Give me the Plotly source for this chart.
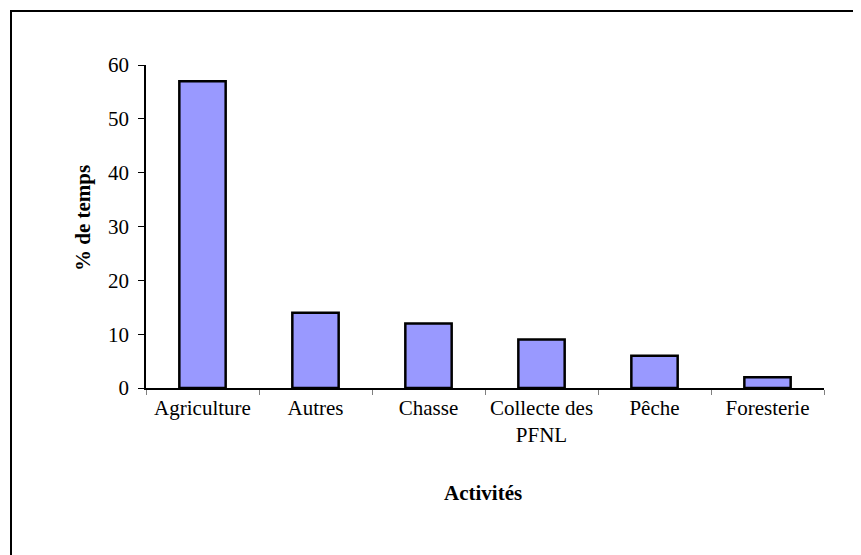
import plotly.graph_objects as go

categories = ["Agriculture", "Autres", "Chasse", "Collecte des<br>PFNL", "Pêche", "Foresterie"]
values = [57, 14, 12, 9, 6, 2]
y_ticks = [0, 10, 20, 30, 40, 50, 60]

OFF = 8  # page body margin offset
W, H = 861 - OFF, 555 - OFF
L, T = 146 - OFF, 65 - OFF
R = 861 - 824
B = 555 - 388
pw, ph = W - L - R, H - T - B


def px_x(x):
    return (x - OFF - L) / pw


def px_y(y):
    return (H - B - (y - OFF)) / ph


fig = go.Figure(go.Bar(
    x=categories, y=values,
    marker=dict(color="#9999FF", line=dict(color="black", width=2.5)),
))

font = dict(family="Liberation Serif, Times New Roman, serif", size=21, color="black")

fig.update_layout(
    width=W, height=H,
    margin=dict(l=L, r=R, t=T, b=B, autoexpand=False),
    paper_bgcolor="white", plot_bgcolor="white",
    bargap=0.59,
    showlegend=False,
    font=font,
    xaxis=dict(
        showline=True, linecolor="black", linewidth=1.5,
        ticks="outside", tickson="boundaries", ticklen=5, tickcolor="#808080",
        tickfont=font, showgrid=False,
    ),
    yaxis=dict(
        range=[0, 60], tickvals=y_ticks, showline=True, linecolor="black", linewidth=1.5,
        ticks="outside", ticklen=6, tickcolor="black", tickfont=font,
        ticklabelstandoff=5,
        showgrid=False, zeroline=False,
    ),
    annotations=[
        dict(text="<b>Activités</b>", xref="paper", yref="paper",
             x=px_x(483), y=px_y(493), showarrow=False,
             font=font, xanchor="center", yanchor="middle"),
        dict(text="<b>% de temps</b>", xref="paper", yref="paper",
             x=px_x(83), y=px_y(218), showarrow=False,
             textangle=-90, font=font, xanchor="center", yanchor="middle"),
    ],
    shapes=[
        dict(type="rect", xref="paper", yref="paper",
             x0=px_x(11), x1=px_x(900),
             y0=px_y(600), y1=px_y(11),
             line=dict(color="black", width=2), fillcolor="rgba(0,0,0,0)"),
    ],
)

fig.write_html("out.html")
